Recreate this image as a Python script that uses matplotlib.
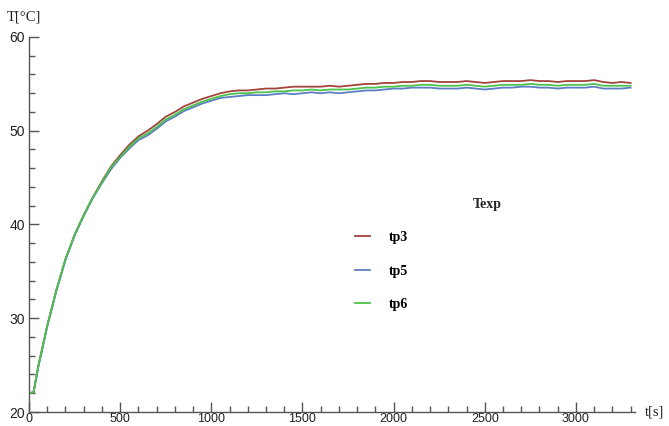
import matplotlib
matplotlib.use("Agg")
import matplotlib.pyplot as plt
from matplotlib.ticker import MultipleLocator

t = [0, 25, 50, 100, 150, 200, 250, 300, 350, 400, 450, 500, 550, 600, 650, 700,
     750, 800, 850, 900, 950, 1000, 1050, 1100, 1150, 1200, 1250, 1300, 1350, 1400,
     1450, 1500, 1550, 1600, 1650, 1700, 1750, 1800, 1850, 1900, 1950, 2000, 2050,
     2100, 2150, 2200, 2250, 2300, 2350, 2400, 2450, 2500, 2550, 2600, 2650, 2700,
     2750, 2800, 2850, 2900, 2950, 3000, 3050, 3100, 3150, 3200, 3250, 3300]

tp3 = [22.0, 22.1, 24.8, 29.2, 33.0, 36.3, 38.9, 41.0, 42.9, 44.6, 46.2, 47.4, 48.5,
       49.4, 50.0, 50.7, 51.5, 52.0, 52.6, 53.0, 53.4, 53.7, 54.0, 54.2, 54.3, 54.3,
       54.4, 54.5, 54.5, 54.6, 54.7, 54.7, 54.7, 54.7, 54.8, 54.7, 54.8, 54.9, 55.0,
       55.0, 55.1, 55.1, 55.2, 55.2, 55.3, 55.3, 55.2, 55.2, 55.2, 55.3, 55.2, 55.1,
       55.2, 55.3, 55.3, 55.3, 55.4, 55.3, 55.3, 55.2, 55.3, 55.3, 55.3, 55.4, 55.2,
       55.1, 55.2, 55.1]

tp5 = [22.0, 22.1, 24.7, 29.1, 32.9, 36.2, 38.8, 40.9, 42.8, 44.4, 45.9, 47.1, 48.1,
       49.0, 49.5, 50.2, 51.0, 51.5, 52.1, 52.5, 52.9, 53.2, 53.5, 53.6, 53.7, 53.8,
       53.8, 53.8, 53.9, 54.0, 53.9, 54.0, 54.1, 54.0, 54.1, 54.0, 54.1, 54.2, 54.3,
       54.3, 54.4, 54.5, 54.5, 54.6, 54.6, 54.6, 54.5, 54.5, 54.5, 54.6, 54.5, 54.4,
       54.5, 54.6, 54.6, 54.7, 54.7, 54.6, 54.6, 54.5, 54.6, 54.6, 54.6, 54.7, 54.5,
       54.5, 54.5, 54.6]

tp6 = [22.0, 22.1, 24.8, 29.2, 33.0, 36.3, 38.9, 41.0, 42.9, 44.5, 46.1, 47.2, 48.3,
       49.2, 49.7, 50.4, 51.2, 51.7, 52.3, 52.7, 53.1, 53.4, 53.7, 53.9, 54.0, 54.0,
       54.1, 54.1, 54.2, 54.2, 54.3, 54.3, 54.4, 54.3, 54.4, 54.4, 54.4, 54.5, 54.6,
       54.6, 54.7, 54.7, 54.8, 54.8, 54.9, 54.9, 54.8, 54.8, 54.8, 54.9, 54.8, 54.7,
       54.8, 54.9, 54.9, 54.9, 55.0, 54.9, 54.9, 54.8, 54.9, 54.9, 54.9, 55.0, 54.8,
       54.8, 54.8, 54.8]

labels = ["tp3", "tp5", "tp6"]
colors = ["#a4423c", "#5b7fc2", "#4cc24c"]

W, H = 669, 426
fig = plt.figure(figsize=(W / 100, H / 100), dpi=100)
ax = fig.add_axes([29 / W, 1 - 412 / H, (635 - 29) / W, (412 - 37) / H])

l3, = ax.plot(t, tp3, color=colors[0], lw=1.3)
l5, = ax.plot(t, tp5, color=colors[1], lw=1.3)
l6, = ax.plot(t, tp6, color=colors[2], lw=1.3)

ax.set_xlim(0, 3324)
ax.set_ylim(20, 60)
for s in ["top", "right"]:
    ax.spines[s].set_visible(False)
for s in ["left", "bottom"]:
    ax.spines[s].set_color("#555555")
    ax.spines[s].set_linewidth(1.0)

ax.xaxis.set_major_locator(MultipleLocator(500))
ax.xaxis.set_minor_locator(MultipleLocator(100))
ax.yaxis.set_major_locator(MultipleLocator(10))
ax.yaxis.set_minor_locator(MultipleLocator(2))
ax.tick_params(which="both", direction="in", color="#555555", width=1.0)
ax.tick_params(which="major", length=7, labelsize=10, pad=3)
ax.tick_params(which="minor", length=4)
ax.tick_params(axis="x", which="major", labelsize=9, pad=1)
for lab in ax.get_xticklabels() + ax.get_yticklabels():
    lab.set_family("Liberation Sans")
    lab.set_color("#222222")

fig.text(7 / W, 1 - 17 / H, "T[°C]", family="Liberation Serif", fontsize=10.5,
         va="center", ha="left", color="#222222")
fig.text(645 / W, 1 - 412 / H, "t[s]", family="Liberation Serif", fontsize=10.5,
         va="center", ha="left", color="#222222")

leg = fig.legend([l3, l5, l6], labels, loc="center left",
                 bbox_to_anchor=(355 / W, 1 - 271 / H), frameon=False,
                 prop={"family": "Liberation Serif", "size": 10, "weight": "bold"},
                 handlelength=1.1, handletextpad=1.3, labelspacing=1.5,
                 borderpad=0, borderaxespad=0)
fig.text(473 / W, 1 - 205 / H, "Texp", family="Liberation Serif", fontsize=10,
         weight="bold", va="center", ha="left", color="#222222")

fig.savefig("out.png", dpi=100)
